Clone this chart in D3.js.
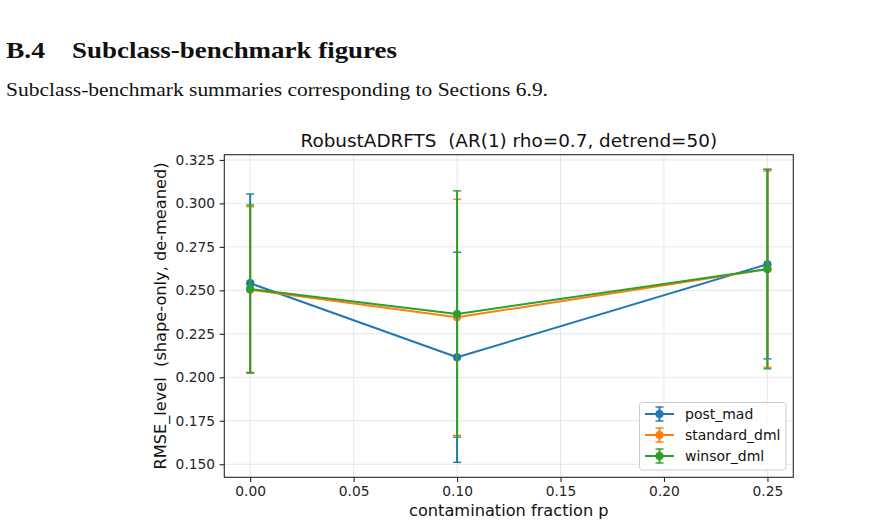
<!DOCTYPE html>
<html>
<head>
<meta charset="utf-8">
<script src="https://cdn.jsdelivr.net/npm/d3@7"></script>
<style>
  html, body { margin: 0; padding: 0; background: #fff; }
  svg { display: block; }
  text { white-space: pre; }
</style>
</head>
<body>
<svg id="chart" width="873" height="526"></svg>
<script>
// ---- data ----
const pValues = [0.00, 0.10, 0.25];
const seriesNames = ["post_mad", "standard_dml", "winsor_dml"];
const postMadMean = [0.2541, 0.2115, 0.2650];
const postMadErr = [0.0513, 0.0604, 0.0544];
const standardDmlMean = [0.2503, 0.2345, 0.2622];
const standardDmlErr = [0.0478, 0.0679, 0.0564];
const winsorDmlMean = [0.2508, 0.2364, 0.2623];
const winsorDmlErr = [0.0483, 0.0708, 0.0574];
const xTicks = [0.00, 0.05, 0.10, 0.15, 0.20, 0.25];
const yTicks = [0.150, 0.175, 0.200, 0.225, 0.250, 0.275, 0.300, 0.325];
const colors = ["#1f77b4", "#ff7f0e", "#2ca02c"];

(function () {
const series = [
  { name: seriesNames[0], mean: postMadMean, err: postMadErr, color: colors[0] },
  { name: seriesNames[1], mean: standardDmlMean, err: standardDmlErr, color: colors[1] },
  { name: seriesNames[2], mean: winsorDmlMean, err: winsorDmlErr, color: colors[2] }
];

const svg = d3.select("#chart");
svg.append("rect").attr("width", 873).attr("height", 526).attr("fill", "#fff");

// ---- document text ----
const serif = "'Liberation Serif', 'DejaVu Serif', serif";
svg.append("text").attr("x", 6).attr("y", 58)
  .attr("font-family", serif).attr("font-weight", "bold").attr("font-size", 23)
  .attr("textLength", 39).attr("lengthAdjust", "spacingAndGlyphs")
  .attr("fill", "#111").text("B.4");
svg.append("text").attr("x", 72).attr("y", 58)
  .attr("font-family", serif).attr("font-weight", "bold").attr("font-size", 23)
  .attr("textLength", 325).attr("lengthAdjust", "spacingAndGlyphs")
  .attr("fill", "#111").text("Subclass-benchmark figures");
svg.append("text").attr("x", 6).attr("y", 96)
  .attr("font-family", serif).attr("font-size", 18.5)
  .attr("textLength", 542).attr("lengthAdjust", "spacingAndGlyphs")
  .attr("fill", "#111").text("Subclass-benchmark summaries corresponding to Sections 6.9.");

// ---- chart ----
const pl = 224.3, pr = 793.3, pt = 154.7, pb = 477.3;
const x = d3.scaleLinear().domain([-0.0125, 0.2625]).range([pl, pr]);
const y = d3.scaleLinear().domain([0.1425, 0.3280]).range([pb, pt]);
const sans = "'DejaVu Sans', sans-serif";

const g = svg.append("g");

// grid
g.append("g").selectAll("line").data(xTicks).join("line")
  .attr("x1", d => x(d)).attr("x2", d => x(d)).attr("y1", pt).attr("y2", pb)
  .attr("stroke", "#b0b0b0").attr("stroke-opacity", 0.3).attr("stroke-width", 1);
g.append("g").selectAll("line").data(yTicks).join("line")
  .attr("x1", pl).attr("x2", pr).attr("y1", d => y(d)).attr("y2", d => y(d))
  .attr("stroke", "#b0b0b0").attr("stroke-opacity", 0.3).attr("stroke-width", 1);

// axes
const xAxis = d3.axisBottom(x).tickValues(xTicks).tickFormat(d3.format(".2f")).tickSize(4.7).tickPadding(4.5);
const yAxis = d3.axisLeft(y).tickValues(yTicks).tickFormat(d3.format(".3f")).tickSize(4.7).tickPadding(4.5);
const gx = g.append("g").attr("transform", `translate(0,${pb})`).call(xAxis);
const gy = g.append("g").attr("transform", `translate(${pl},0)`).call(yAxis);
[gx, gy].forEach(a => {
  a.select(".domain").remove();
  a.selectAll("line").attr("stroke", "#262626").attr("stroke-width", 1.1);
  a.selectAll("text").attr("font-family", sans).attr("font-size", 13.8).attr("fill", "#262626");
});

// series
const lineGen = d3.line().x((d, i) => x(pValues[i])).y(d => y(d));
series.forEach(s => {
  const sg = g.append("g");
  sg.selectAll("line.eb").data(s.mean).join("line").attr("class", "eb")
    .attr("x1", (d, i) => x(pValues[i])).attr("x2", (d, i) => x(pValues[i]))
    .attr("y1", (d, i) => y(d - s.err[i])).attr("y2", (d, i) => y(d + s.err[i]))
    .attr("stroke", s.color).attr("stroke-width", 2);
  const caps = [];
  s.mean.forEach((d, i) => { caps.push([pValues[i], d - s.err[i]]); caps.push([pValues[i], d + s.err[i]]); });
  sg.selectAll("line.cap").data(caps).join("line").attr("class", "cap")
    .attr("x1", d => x(d[0]) - 4).attr("x2", d => x(d[0]) + 4)
    .attr("y1", d => y(d[1])).attr("y2", d => y(d[1]))
    .attr("stroke", s.color).attr("stroke-width", 1.4);
  sg.append("path").datum(s.mean).attr("d", lineGen)
    .attr("fill", "none").attr("stroke", s.color).attr("stroke-width", 2).attr("stroke-linejoin", "round");
  sg.selectAll("circle").data(s.mean).join("circle")
    .attr("cx", (d, i) => x(pValues[i])).attr("cy", d => y(d)).attr("r", 4.1)
    .attr("fill", s.color);
});

// frame
g.append("rect").attr("x", pl).attr("y", pt).attr("width", pr - pl).attr("height", pb - pt)
  .attr("fill", "none").attr("stroke", "#262626").attr("stroke-width", 1.1);

// title & labels
svg.append("text").attr("x", (pl + pr) / 2).attr("y", 147).attr("text-anchor", "middle")
  .attr("font-family", sans).attr("font-size", 18.4).attr("fill", "#111")
  .text("RobustADRFTS  (AR(1) rho=0.7, detrend=50)");
svg.append("text").attr("x", (pl + pr) / 2).attr("y", 516).attr("text-anchor", "middle")
  .attr("font-family", sans).attr("font-size", 16.2).attr("fill", "#111")
  .text("contamination fraction p");
svg.append("text").attr("transform", `translate(166,${(pt + pb) / 2}) rotate(-90)`).attr("text-anchor", "middle")
  .attr("font-family", sans).attr("font-size", 16.2).attr("fill", "#111")
  .text("RMSE_level  (shape-only, de-meaned)");

// legend
const lg = svg.append("g");
lg.append("rect").attr("x", 639.5).attr("y", 402.5).attr("width", 146.5).attr("height", 67.5)
  .attr("rx", 3).attr("fill", "#fff").attr("fill-opacity", 0.8).attr("stroke", "#cccccc").attr("stroke-width", 1);
series.forEach((s, i) => {
  const cy = 414 + i * 21;
  const h = lg.append("g");
  h.append("line").attr("x1", 645).attr("x2", 674).attr("y1", cy).attr("y2", cy)
    .attr("stroke", s.color).attr("stroke-width", 2);
  h.append("line").attr("x1", 659.5).attr("x2", 659.5).attr("y1", cy - 7).attr("y2", cy + 7)
    .attr("stroke", s.color).attr("stroke-width", 2);
  [cy - 7, cy + 7].forEach(yy => h.append("line").attr("x1", 655.5).attr("x2", 663.5).attr("y1", yy).attr("y2", yy)
    .attr("stroke", s.color).attr("stroke-width", 1.4));
  h.append("circle").attr("cx", 659.5).attr("cy", cy).attr("r", 4.1).attr("fill", s.color);
  h.append("text").attr("x", 685).attr("y", cy + 5)
    .attr("font-family", sans).attr("font-size", 14).attr("fill", "#111").text(s.name);
});
})();
</script>
</body>
</html>
